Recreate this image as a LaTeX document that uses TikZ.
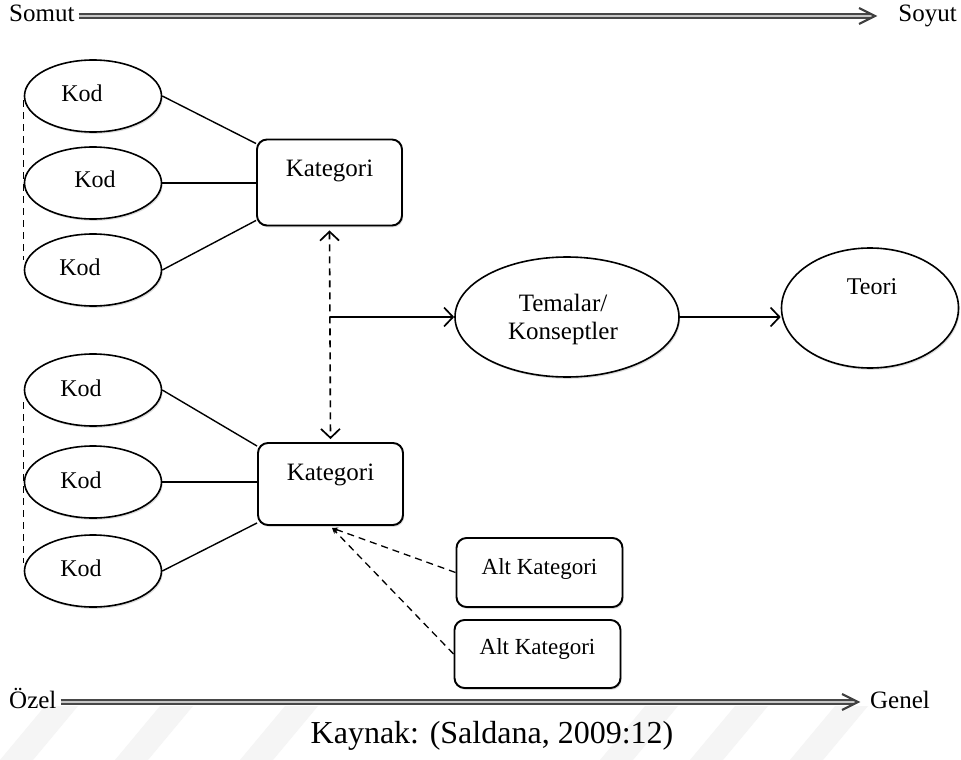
\documentclass[tikz,border=0pt]{standalone}
\usepackage{fontspec}
\setmainfont{Liberation Serif}
\usetikzlibrary{arrows.meta,shapes.geometric,shadows}

\tikzset{
  txt/.style={font=\fontsize{24}{28}\selectfont, inner sep=0pt},
  bigtxt/.style={font=\fontsize{25}{28}\selectfont, inner sep=0pt},
  smalltxt/.style={font=\fontsize{23}{26}\selectfont, inner sep=0pt},
  shade/.style={drop shadow={shadow xshift=1.2pt, shadow yshift=-1.8pt, fill=black!35, opacity=0.4}},
  kodnode/.style={ellipse, draw, line width=1.6pt, fill=white, shade,
    minimum width=137pt, minimum height=72pt, inner sep=0pt},
  bignode/.style={ellipse, draw, line width=1.6pt, fill=white, shade, inner sep=0pt},
  katbox/.style={rectangle, rounded corners=10pt, draw, line width=1.9pt, fill=white, shade,
    minimum width=145pt, minimum height=86pt, inner sep=0pt},
  altbox/.style={rectangle, rounded corners=10pt, draw, line width=1.9pt, fill=white, shade,
    minimum width=166pt, minimum height=69pt, inner sep=0pt},
  link/.style={line width=1.4pt},
  dlink/.style={line width=1.3pt, dash pattern=on 7pt off 5pt},
  barb/.tip={Straight Barb[length=9pt, width=19pt, line width=1.7pt]},
  openhead/.style={line width=1.6pt, arrows={-barb}},
  axis/.style={draw=black!72, line width=1.5pt, double=black!22, double distance=2.2pt},
  chevron/.style={draw=black!75, line width=2.2pt, line join=miter},
}

\begin{document}
\begin{tikzpicture}[x=1pt, y=-1pt]
  \fill[white] (0,0) rectangle (961,760);
  \useasboundingbox (0,0) rectangle (961,760);

  % faint diagonal bands along the lower edge
  \begin{scope}[fill=black!4]
    \foreach \x in {0,115,240,600,690,790}
      \fill (\x,760) -- (\x+45,706) -- (\x+78,706) -- (\x+33,760) -- cycle;
  \end{scope}

  % concrete -> abstract axis
  \node[bigtxt, anchor=base west] (somut) at (9,22) {Somut};
  \node[bigtxt, anchor=base east] (soyut) at (957,22) {Soyut};
  \coordinate (toptip) at (875,16);
  \draw[axis] ([xshift=4pt]somut.east |- toptip) -- ([xshift=-3pt]toptip);
  \draw[chevron] ([xshift=-16pt, yshift=8pt]toptip) -- (toptip) -- ([xshift=-16pt, yshift=-8pt]toptip);

  % upper code group
  \node[kodnode, label={[txt, xshift=-11pt, yshift=3pt]center:Kod}] (kod1) at (93,96) {};
  \node[kodnode, label={[txt, xshift=2pt, yshift=4pt]center:Kod}] (kod2) at (93,183) {};
  \node[kodnode, label={[txt, xshift=-13pt, yshift=3pt]center:Kod}] (kod3) at (93,270) {};
  \node[katbox, label={[bigtxt, yshift=12pt]center:Kategori}] (kat1) at (329.5,182.5) {};

  % lower code group
  \node[kodnode, label={[txt, xshift=-12pt, yshift=2pt]center:Kod}] (kod4) at (93,390) {};
  \node[kodnode, label={[txt, xshift=-12pt, yshift=2pt]center:Kod}] (kod5) at (93,482) {};
  \node[kodnode, label={[txt, xshift=-12pt, yshift=3pt]center:Kod}] (kod6) at (93,571) {};
  \node[katbox, minimum height=82pt, label={[bigtxt, yshift=9pt]center:Kategori}] (kat2) at (330.5,484) {};

  % themes and theory
  \node[bignode, minimum width=224pt, minimum height=120pt, bigtxt, align=center, text depth=0pt] (tem) at (567,317) {\hspace*{-8pt}Temalar/\\\hspace*{-8pt}Konseptler};
  \node[bignode, minimum width=177pt, minimum height=120pt, label={[txt, xshift=2pt, yshift=21pt]center:Teori}] (teo) at (870,308) {};

  % subcategories
  \node[altbox, label={[smalltxt, yshift=4pt]center:Alt Kategori}] (alt1) at (539.5,572.5) {};
  \node[altbox, minimum height=68pt, label={[smalltxt, yshift=5pt]center:Alt Kategori}] (alt2) at (537.5,654) {};

  % codes to categories
  \draw[link] (kod1.east) -- ([yshift=-5pt]kat1.north west);
  \draw[link] (kod2.east) -- (kat1.west |- kod2.east);
  \draw[link] (kod3.east) -- ([yshift=6pt]kat1.south west);
  \draw[link] (kod4.east) -- ([yshift=-4pt]kat2.north west);
  \draw[link] (kod5.east) -- (kat2.west |- kod5.east);
  \draw[link] (kod6.east) -- ([yshift=3pt]kat2.south west);

  % dashed brackets along the code columns
  \draw[dlink, line width=1.1pt] ([yshift=-4pt]kod1.west) -- ([yshift=10pt]kod3.west);
  \draw[dlink, line width=1.1pt] ([yshift=-12pt]kod4.west) -- ([yshift=8pt]kod6.west);

  % categories linked to each other and to themes
  \draw[dlink, line width=1.6pt, arrows={barb-barb}]
    ([yshift=-4pt]kat1.south) -- ([yshift=3pt]kat2.north);
  \coordinate (junc) at (kat1.south |- tem.west);
  \draw[openhead] (junc) -- (tem.west);
  \draw[openhead] (tem.east) -- (teo.west |- tem.east);

  % subcategories feeding the lower category
  \draw[dlink, arrows={-{Stealth[length=6pt,width=5pt]}}] (alt1.west) -- ([xshift=1.5pt, yshift=-2pt]kat2.south);
  \draw[dlink, arrows={-{Stealth[length=6pt,width=5pt]}}] (alt2.west) -- ([xshift=1.5pt, yshift=-2pt]kat2.south);

  % specific -> general axis
  \node[bigtxt, anchor=base west] (ozel) at (9,708) {Özel};
  \node[bigtxt, anchor=base east] (genel) at (930,708) {Genel};
  \coordinate (bottip) at (858,702);
  \draw[axis] ([xshift=4pt]ozel.east |- bottip) -- ([xshift=-3pt]bottip);
  \draw[chevron] ([xshift=-16pt, yshift=8pt]bottip) -- (bottip) -- ([xshift=-16pt, yshift=-8pt]bottip);

  % source line
  \node[font=\fontsize{32}{36}\selectfont, inner sep=0pt] (src) at (492,736) {Kaynak: (Saldana, 2009:12)};
\end{tikzpicture}
\end{document}
